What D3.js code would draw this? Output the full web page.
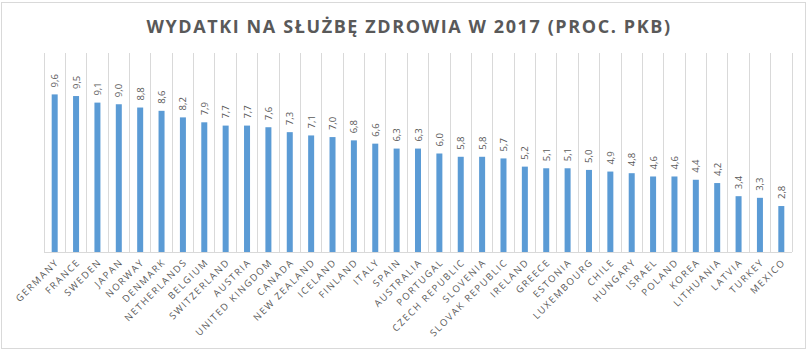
<!DOCTYPE html>
<html><head><meta charset="utf-8">
<script src="https://cdn.jsdelivr.net/npm/d3@7/dist/d3.min.js"></script>
<style>body{margin:0;background:#fff}svg{display:block}</style>
</head><body><svg id="c" width="808" height="351"></svg>
<script>
const title = "WYDATKI NA SŁUŻBĘ ZDROWIA W 2017 (PROC. PKB)";
const countries = ["GERMANY","FRANCE","SWEDEN","JAPAN","NORWAY","DENMARK","NETHERLANDS","BELGIUM","SWITZERLAND","AUSTRIA","UNITED KINGDOM","CANADA","NEW ZEALAND","ICELAND","FINLAND","ITALY","SPAIN","AUSTRALIA","PORTUGAL","CZECH REPUBLIC","SLOVENIA","SLOVAK REPUBLIC","IRELAND","GREECE","ESTONIA","LUXEMBOURG","CHILE","HUNGARY","ISRAEL","POLAND","KOREA","LITHUANIA","LATVIA","TURKEY","MEXICO"];
const values = [9.6,9.5,9.1,9.0,8.8,8.6,8.2,7.9,7.7,7.7,7.6,7.3,7.1,7.0,6.8,6.6,6.3,6.3,6.0,5.8,5.8,5.7,5.2,5.1,5.1,5.0,4.9,4.8,4.6,4.6,4.4,4.2,3.4,3.3,2.8];
const yDomain = [0, 12];

const svg = d3.select("#c");
const gray = "#595959";
svg.append("rect").attr("x",1.5).attr("y",2.5).attr("width",804).attr("height",346)
  .attr("fill","#fff").attr("stroke","#d9d9d9");

svg.append("text").attr("x",409).attr("y",33).attr("text-anchor","middle")
  .attr("font-family","Open Sans").attr("font-weight","bold").attr("font-size",18)
  .attr("letter-spacing",1.6).attr("fill",gray).text(title);

const x = d3.scaleBand().domain(countries).range([44,792]);
const y = d3.scaleLinear().domain(yDomain).range([252,55]);

// vertical gridlines at category boundaries
const bounds = countries.map(c=>x(c)).concat([x.range()[1]]);
svg.append("g").selectAll("line").data(bounds).join("line")
  .attr("x1",d=>d).attr("x2",d=>d).attr("y1",y(yDomain[1])-2).attr("y2",y(0))
  .attr("stroke","#d9d9d9").attr("stroke-width",1).attr("shape-rendering","crispEdges");
svg.append("line").attr("x1",44).attr("x2",792).attr("y1",y(0)).attr("y2",y(0))
  .attr("stroke","#d9d9d9").attr("shape-rendering","crispEdges");

const bw = 6;
svg.append("g").selectAll("rect").data(values).join("rect")
  .attr("x",(d,i)=>x(countries[i])+x.bandwidth()/2-bw/2)
  .attr("width",bw)
  .attr("y",d=>y(d)).attr("height",d=>y(0)-y(d))
  .attr("fill","#5b9bd5");

svg.append("g").selectAll("text").data(values).join("text")
  .attr("transform",(d,i)=>`translate(${x(countries[i])+x.bandwidth()/2+3.5},${y(d)-7}) rotate(-90)`)
  .attr("font-family","Open Sans").attr("font-size",9.5).attr("fill",gray)
  .text(d=>d.toFixed(1).replace(".",","));

svg.append("g").selectAll("text").data(countries).join("text")
  .attr("transform",c=>`translate(${x(c)+x.bandwidth()/2+3},${y(0)+9}) rotate(-45)`)
  .attr("text-anchor","end").attr("dominant-baseline","middle")
  .attr("font-family","Open Sans").attr("font-size",9.5).attr("letter-spacing",1.6)
  .attr("fill",gray).text(c=>c);
</script></body></html>
